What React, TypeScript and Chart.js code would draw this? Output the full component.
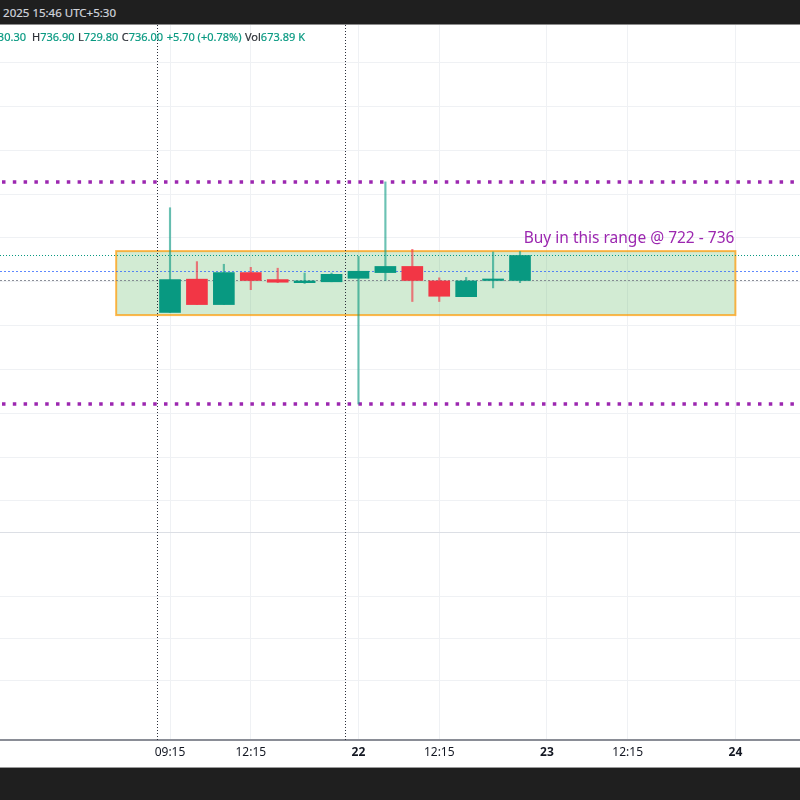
import React, { useEffect, useRef } from "react";
import { Chart, registerables } from "chart.js";

Chart.register(...registerables);

// ---- Data (hourly candles, 21st and 22nd) ----
const SLOTS = [0, 1, 2, 3, 4, 5, 6, 7, 8, 9, 10, 11, 12, 13];
const OPEN = [723.0, 730.6, 724.8, 732.1, 730.5, 729.8, 730.0, 730.8, 732.1, 733.5, 730.2, 726.6, 730.3, 730.3];
const HIGH = [746.9, 734.6, 734.0, 733.3, 733.1, 732.0, 732.0, 735.8, 752.8, 737.4, 730.9, 731.0, 736.8, 736.9];
const LOW = [723.0, 724.8, 724.8, 728.2, 729.8, 729.6, 730.0, 702.1, 730.3, 725.5, 725.5, 726.6, 728.6, 729.8];
const CLOSE = [730.5, 724.8, 732.1, 730.3, 729.9, 730.2, 731.7, 732.4, 733.5, 730.3, 726.7, 730.2, 730.4, 736.0];

// ---- Axis ticks ----
const TICK_SLOTS = [0, 3, 7, 10, 14, 17, 21];
const TICK_LABELS = ["09:15", "12:15", "22", "12:15", "23", "12:15", "24"];
const SESSION_BREAKS = [-0.5, 6.5];
const X_RANGE = [-6.315, 23.4];
const PRICE_RANGE = [672.9, 788.6];
const PRICE_STEP = 10;
const LOWER_RANGE = [0.582, 5.523];

// ---- Drawings ----
const RESISTANCE = 752.8;
const SUPPORT = 702.1;
const ZONE_PRICES = [722.4, 737.0];
const ZONE_SLOTS = [-2, 21];
const ZONE_LABEL = "Buy in this range @ 722 - 736";
const LAST_CLOSE = 736.0;
const PREV_CLOSE = 730.3;
const AVG_LEVEL = 732.5;

// ---- Legend text ----
const LEGEND_OPEN = "730.30";
const LEGEND_REST: [string, string][] = [
  ["H", "736.90"],
  ["L", "729.80"],
  ["C", "736.00"],
  ["", "+5.70 (+0.78%)"],
  ["Vol", "673.89 K"],
];
const HEADER_TEXT = "Aug 22, 2025 15:46 UTC+5:30";

const UP = "#089981";
const DOWN = "#f23645";
const WICK_UP = "rgba(8,153,129,0.6)";
const WICK_DOWN = "rgba(242,54,69,0.65)";
const GRID = "#eff1f4";
const FONT = '"Noto Sans", "DejaVu Sans", sans-serif';

export default function App() {
  const ref = useRef<HTMLCanvasElement>(null);

  useEffect(() => {
    const canvas = ref.current;
    if (!canvas) return;
    const isUp = (i: number) => CLOSE[i] >= OPEN[i];

    const overlay = {
      id: "overlay",
      beforeDatasetsDraw(chart: any) {
        const { ctx, chartArea: a, scales } = chart;
        const x = scales.x;
        const y = scales.y;
        const y2 = scales.y2;
        ctx.save();
        ctx.beginPath();
        ctx.rect(a.left, a.top, a.right - a.left, a.bottom - a.top);
        ctx.clip();

        // pane separator
        const sep = y.top < y2.top ? y.bottom : y2.bottom;
        ctx.strokeStyle = "#dcdfe5";
        ctx.lineWidth = 1;
        ctx.setLineDash([]);
        ctx.beginPath();
        ctx.moveTo(a.left, Math.round(sep) + 0.5);
        ctx.lineTo(a.right, Math.round(sep) + 0.5);
        ctx.stroke();

        // zone box
        const zx1 = x.getPixelForValue(ZONE_SLOTS[0]);
        const zx2 = x.getPixelForValue(ZONE_SLOTS[1]);
        const zy1 = y.getPixelForValue(ZONE_PRICES[1]);
        const zy2 = y.getPixelForValue(ZONE_PRICES[0]);
        ctx.fillStyle = "rgba(76,175,80,0.25)";
        ctx.fillRect(zx1, zy1, zx2 - zx1, zy2 - zy1);
        ctx.strokeStyle = "rgba(255,152,0,0.7)";
        ctx.lineWidth = 2;
        ctx.strokeRect(zx1, zy1, zx2 - zx1, zy2 - zy1);

        const hline = (v: number, color: string, w: number, dash: number[]) => {
          const py = Math.round(y.getPixelForValue(v)) + (w % 2 === 1 ? 0.5 : 0);
          ctx.strokeStyle = color;
          ctx.lineWidth = w;
          ctx.setLineDash(dash);
          ctx.beginPath();
          ctx.moveTo(a.left, py);
          ctx.lineTo(a.right, py);
          ctx.stroke();
        };
        hline(LAST_CLOSE, "#089981", 1, [1, 2]);
        hline(AVG_LEVEL, "rgba(41,98,255,0.75)", 1, [2, 2]);
        hline(PREV_CLOSE, "rgba(120,123,134,0.85)", 1, [2, 2]);

        // purple levels
        ctx.lineCap = "butt";
        const pline = (v: number) => {
          const py = y.getPixelForValue(v);
          ctx.strokeStyle = "#9c27b0";
          ctx.lineWidth = 3.5;
          ctx.setLineDash([3.5, 7.3]);
          ctx.lineDashOffset = -2;
          ctx.beginPath();
          ctx.moveTo(a.left, py);
          ctx.lineTo(a.right, py);
          ctx.stroke();
          ctx.lineDashOffset = 0;
        };
        pline(RESISTANCE);
        pline(SUPPORT);

        // session breaks
        ctx.strokeStyle = "#2a2e39";
        ctx.lineWidth = 1;
        ctx.setLineDash([1, 2]);
        SESSION_BREAKS.forEach((s) => {
          const px = Math.round(x.getPixelForValue(s)) + 0.5;
          ctx.beginPath();
          ctx.moveTo(px, a.top);
          ctx.lineTo(px, a.bottom);
          ctx.stroke();
        });
        ctx.setLineDash([]);

        // label
        ctx.fillStyle = "#9c27b0";
        ctx.font = `15.5px ${FONT}`;
        ctx.textAlign = "right";
        ctx.textBaseline = "alphabetic";
        ctx.fillText(ZONE_LABEL, zx2 - 1, zy1 - 8);

        ctx.restore();
      },
    };

    const chart = new Chart(canvas, {
      type: "bar",
      data: {
        datasets: [
          {
            label: "wicks",
            data: SLOTS.map((s, i) => ({ x: s, y: [LOW[i], HIGH[i]] })) as any,
            backgroundColor: SLOTS.map((_, i) => (isUp(i) ? WICK_UP : WICK_DOWN)),
            barThickness: 1.5,
            grouped: false,
            order: 2,
            yAxisID: "y",
          } as any,
          {
            label: "bodies",
            data: SLOTS.map((s, i) => ({ x: s, y: [OPEN[i], CLOSE[i]] })) as any,
            backgroundColor: SLOTS.map((_, i) => (isUp(i) ? UP : DOWN)),
            barThickness: 21,
            minBarLength: 1.5,
            grouped: false,
            order: 1,
            yAxisID: "y",
          } as any,
        ],
      },
      options: {
        animation: false,
        responsive: false,
        layout: { padding: { top: 25, left: 0, right: 0, bottom: 0 } },
        plugins: { legend: { display: false }, tooltip: { enabled: false } },
        scales: {
          x: {
            type: "linear",
            min: X_RANGE[0],
            max: X_RANGE[1],
            offset: false,
            grid: { color: GRID, drawTicks: false, offset: false },
            border: { display: true, color: "#8a8d96", width: 2 },
            ticks: {
              autoSkip: false,
              maxRotation: 0,
              padding: 5,
              color: "#131722",
              callback: (v: any) => {
                const k = TICK_SLOTS.indexOf(Number(v));
                return k >= 0 ? TICK_LABELS[k] : "";
              },
              font: (c: any) => {
                const k = TICK_SLOTS.indexOf(c.tick ? c.tick.value : -99);
                const day = k >= 0 && TICK_LABELS[k].indexOf(":") < 0;
                return { family: FONT, size: 12, weight: day ? "bold" : "normal" };
              },
            },
            afterBuildTicks: (s: any) => {
              s.ticks = TICK_SLOTS.map((v) => ({ value: v }));
            },
            afterFit: (s: any) => {
              s.height = 28;
            },
          } as any,
          y2: {
            type: "linear",
            position: "left",
            stack: "panes",
            stackWeight: 208,
            min: LOWER_RANGE[0],
            max: LOWER_RANGE[1],
            grid: { color: GRID, drawTicks: false },
            border: { display: false },
            ticks: { display: false, stepSize: 1 },
            afterBuildTicks: (s: any) => {
              s.ticks = s.ticks.filter((t: any) => Math.abs(t.value - Math.round(t.value)) < 1e-6);
            },
            afterFit: (s: any) => {
              s.width = 0;
            },
          } as any,
          y: {
            type: "linear",
            position: "left",
            stack: "panes",
            stackWeight: 507,
            min: PRICE_RANGE[0],
            max: PRICE_RANGE[1],
            grid: { color: GRID, drawTicks: false },
            border: { display: false },
            ticks: { display: false, stepSize: PRICE_STEP },
            afterBuildTicks: (s: any) => {
              s.ticks = s.ticks.filter(
                (t: any) => Math.abs(t.value / PRICE_STEP - Math.round(t.value / PRICE_STEP)) < 1e-6
              );
            },
            afterFit: (s: any) => {
              s.width = 0;
            },
          } as any,
        },
      },
      plugins: [overlay],
    });

    return () => chart.destroy();
  }, []);

  return (
    <div
      style={{
        position: "fixed",
        left: 0,
        top: 0,
        width: 800,
        height: 800,
        background: "#ffffff",
        overflow: "hidden",
        fontFamily: FONT,
      }}
    >
      <canvas
        ref={ref}
        width={800}
        height={768}
        style={{ position: "absolute", left: 0, top: 0, width: 800, height: 768 }}
      />
      <div
        style={{
          position: "absolute",
          left: 0,
          top: 0,
          width: 800,
          height: 25,
          boxSizing: "border-box",
          background: "#1f1f1f",
          borderBottom: "1px solid #8c8c8c",
          overflow: "hidden",
        }}
      >
        <div
          style={{
            position: "absolute",
            right: 684,
            top: 0,
            lineHeight: "25px",
            fontSize: 11.5,
            color: "#d1d4dc",
            whiteSpace: "nowrap",
            WebkitTextStroke: "0.2px #d1d4dc",
          }}
        >
          {HEADER_TEXT}
        </div>
      </div>
      <div
        style={{
          position: "absolute",
          right: 774,
          top: 30,
          lineHeight: "14px",
          fontSize: 11,
          whiteSpace: "nowrap",
          WebkitTextStroke: "0.2px currentColor",
        }}
      >
        <span style={{ color: "#2e3238" }}>O</span>
        <span style={{ color: UP }}>{LEGEND_OPEN}</span>
      </div>
      <div
        style={{
          position: "absolute",
          left: 32,
          top: 30,
          lineHeight: "14px",
          fontSize: 11,
          whiteSpace: "nowrap",
        }}
      >
        {LEGEND_REST.map(([k, v], i) => (
          <span key={i} style={{ marginRight: 3.5 }}>
            {k && <span style={{ color: "#2e3238", WebkitTextStroke: "0.2px #2e3238" }}>{k}</span>}
            <span style={{ color: UP, WebkitTextStroke: "0.2px " + UP }}>{v}</span>
          </span>
        ))}
      </div>
      <div
        style={{
          position: "absolute",
          left: 0,
          top: 767,
          width: 800,
          height: 33,
          boxSizing: "border-box",
          background: "#1f1f1f",
          borderTop: "1px solid #9a9a9a",
        }}
      />
    </div>
  );
}
